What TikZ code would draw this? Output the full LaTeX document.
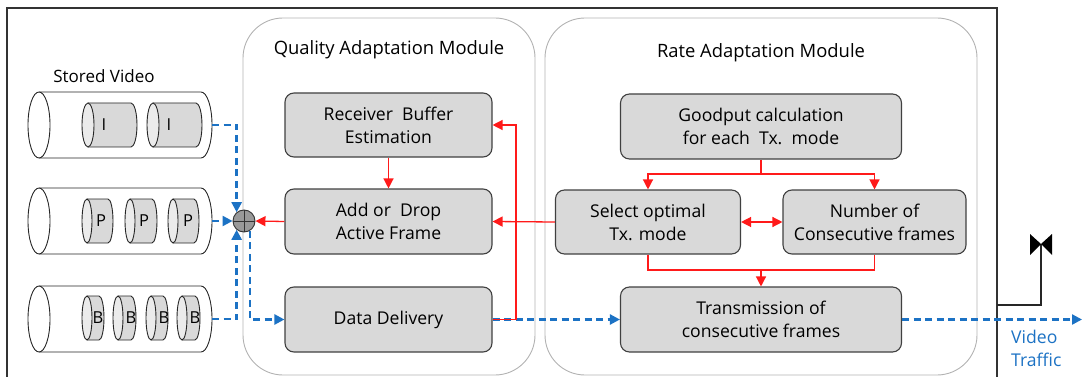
\documentclass[tikz,border=0pt]{standalone}
\usepackage{fontspec}
\setmainfont{Open Sans}
\usetikzlibrary{arrows.meta}

\definecolor{boxgray}{HTML}{D9D9D9}
\definecolor{flowblue}{HTML}{1C72C4}
\definecolor{ctrlred}{HTML}{FF1A1A}

\pgfdeclarelayer{background layer}
\pgfsetlayers{background layer,main}
\tikzstyle{block}=[draw=black!75,fill=boxgray,rounded corners=9pt,line width=1.1pt,align=center,inner sep=2pt,font=\fontsize{17.6}{23}\selectfont]
\tikzstyle{module}=[draw=black!30,rounded corners=40pt,line width=0.9pt]
\tikzstyle{title}=[font=\fontsize{18.4}{23}\selectfont]
\tikzstyle{ctrl}=[draw=ctrlred,line width=1.3pt,-{Triangle[length=10pt,width=10pt]}]
\tikzstyle{ctrlline}=[draw=ctrlred,line width=1.3pt]
\tikzstyle{flow}=[draw=flowblue,line width=2.3pt,dash pattern=on 7pt off 4.5pt,-{Triangle[length=10pt,width=10pt]}]
\tikzstyle{frameletter}=[font=\fontsize{16.5}{18}\selectfont]

% cylinder: left x, right x, y, y radius, x radius, body fill, end fill
\newcommand{\drum}[7]{%
  \filldraw[draw=black!85,line width=0.9pt,fill=#6] (#1,#3-#4) -- (#2-#5,#3-#4)
    arc[start angle=-90,end angle=90,x radius=#5,y radius=#4] -- (#1,#3+#4);
  \filldraw[draw=black!85,line width=0.9pt,fill=#7] (#1,#3) ellipse[x radius=#5,y radius=#4];
}

\begin{document}
\begin{tikzpicture}[x=1pt,y=-1pt]
\useasboundingbox (0,0) rectangle (1084,377);

\begin{pgfonlayer}{background layer}
  \draw[black!80,line width=1.2pt] (7,377) -- (7,8) -- (997,8) -- (997,377);
  \draw[module] (243,18) rectangle (535,375);
  \draw[module] (545,18) rectangle (977,375);
\end{pgfonlayer}

\node[title] (qtitle) at (389,50) {Quality Adaptation Module};
\node[title] (rtitle) at (761,53) {Rate Adaptation Module};
\node[title,font=\fontsize{17}{20}\selectfont] (stored) at (104,76) {Stored Video};

% stored video
\drum{39}{212}{125}{33}{11}{white}{white}
\drum{88}{137}{125}{22}{6}{boxgray}{black!8}
\drum{153}{202}{125}{22}{6}{boxgray}{black!8}
\node[frameletter] at (104,125) {I};
\node[frameletter] at (169,125) {I};

\drum{39}{212}{221}{33}{11}{white}{white}
\drum{87}{113}{221}{22}{5}{boxgray}{black!8}
\drum{130}{157}{221}{22}{5}{boxgray}{black!8}
\drum{173}{199}{221}{22}{5}{boxgray}{black!8}
\node[frameletter] at (101,221) {P};
\node[frameletter] at (144,221) {P};
\node[frameletter] at (188,221) {P};

\drum{39}{212}{319}{33}{11}{white}{white}
\drum{87}{104}{318}{22}{5}{boxgray}{black!8}
\drum{118}{136}{318}{22}{5}{boxgray}{black!8}
\drum{151}{168}{318}{22}{5}{boxgray}{black!8}
\drum{182}{200}{318}{22}{5}{boxgray}{black!8}
\node[frameletter] at (98,318) {B};
\node[frameletter] at (131,318) {B};
\node[frameletter] at (164,318) {B};
\node[frameletter] at (195,318) {B};

\coordinate (iframes) at (212,125);
\coordinate (pframes) at (212,221);
\coordinate (bframes) at (212,319);

\node (sum) at (244,221) [circle,draw=black!80,fill=black!40,line width=0.9pt,minimum size=22pt,inner sep=0pt] {};
\draw[black!80,line width=0.9pt] (sum.north) -- (sum.south) (sum.west) -- (sum.east);

% quality adaptation
\node (recv) at (388.5,125) [block,minimum width=207pt,minimum height=64pt] {Receiver~~Buffer\\Estimation};
\node (adddrop) at (388.5,221.5) [block,minimum width=207pt,minimum height=65pt] {Add or~~Drop\\Active Frame};
\node (deliv) at (388.5,319.5) [block,minimum width=207pt,minimum height=65pt] {Data Delivery};

% rate adaptation
\node (good) at (761,126.5) [block,minimum width=281pt,minimum height=65pt] {Goodput calculation\\for each~~Tx.~~mode};
\node (select) at (648,222) [block,minimum width=185pt,minimum height=64pt] {Select optimal\\Tx. mode};
\node (number) at (874.5,222) [block,minimum width=183pt,minimum height=64pt] {Number of\\Consecutive frames};
\node (trans) at (761,319.5) [block,minimum width=281pt,minimum height=65pt] {Transmission of\\consecutive frames};

% video flow
\draw[flow] (iframes) -| (sum.130);
\draw[flow] (pframes) -- (sum.west);
\draw[flow] (bframes) -| (sum.230);
\draw[flow] (sum.300) |- (deliv.west);
\draw[flow] (deliv.east) -- (trans.west);
\coordinate (vt) at (1082,319.5);
\draw[flow] (trans.east) -- (vt);
\node (vtlabel) at (1011,330) [anchor=north west,align=left,text=flowblue,font=\fontsize{17.6}{23}\selectfont,inner sep=0pt] {Video\\Traffic};

% control
\coordinate (fb) at (516,125);
\draw[ctrl] (deliv.east) -| (fb) -- (recv.east);
\draw[ctrl] (recv.south) -- (adddrop.north);
\draw[ctrl] (adddrop.west) -- (sum.east);
\draw[ctrl] (select.west) -- (adddrop.east);
\coordinate (split) at (761,174);
\draw[ctrlline] (good.south) -- (split);
\draw[ctrl] (split) -| (select.north);
\draw[ctrl] (split) -| (number.north);
\draw[ctrl,{Triangle[length=10pt,width=10pt]}-{Triangle[length=10pt,width=10pt]}] (select.east) -- (number.west);
\coordinate (join) at (761,270);
\draw[ctrlline] (select.south) |- (join) -| (number.south);
\draw[ctrl] (join) -- (trans.north);

% antenna
\coordinate (ant) at (1041,244);
\draw[black!85,line width=1.2pt] (997,305) -| (ant);
\fill (1030,234) -- (ant) -- (1030,255) -- cycle;
\fill (1052,234) -- (ant) -- (1052,255) -- cycle;
\end{tikzpicture}
\end{document}
